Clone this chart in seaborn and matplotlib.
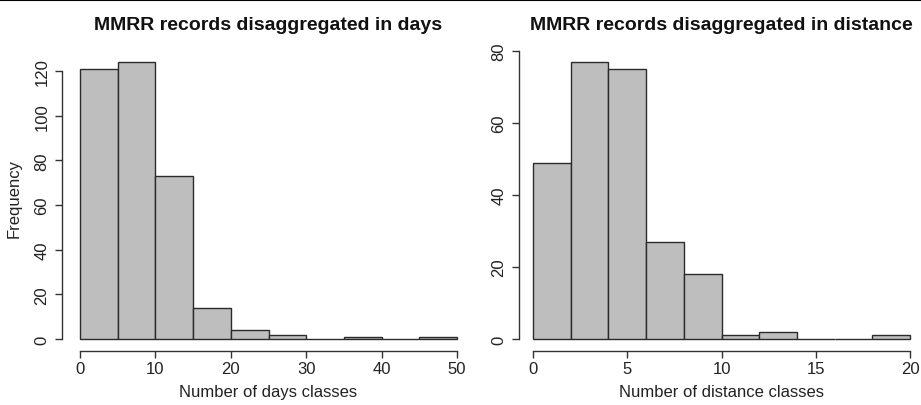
import numpy as np
import pandas as pd
import seaborn as sns
import matplotlib
matplotlib.use("Agg")
from matplotlib import pyplot as plt

# bin edges + counts
day_edges = [0, 5, 10, 15, 20, 25, 30, 35, 40, 45, 50]
day_counts = [121, 124, 73, 14, 4, 2, 0, 1, 0, 1]

dist_edges = [0, 2, 4, 6, 8, 10, 12, 14, 16, 18, 20]
dist_counts = [49, 77, 75, 27, 18, 1, 2, 0, 0, 1]

day_xticks = [0, 10, 20, 30, 40, 50]
day_yticks = [0, 20, 40, 60, 80, 100, 120]
dist_xticks = [0, 5, 10, 15, 20]
dist_yticks = [0, 20, 40, 60, 80]

sns.set_style("white")
plt.rcParams["font.family"] = ["Liberation Sans", "DejaVu Sans"]

W, H = 921, 406
fig = plt.figure(figsize=(W / 100, H / 100), dpi=100)


def r_hist(ax, edges, counts, xticks, yticks, title, xlabel, yoff, ylabel=None):
    e = np.array(edges, dtype=float)
    df = pd.DataFrame({"x": (e[:-1] + e[1:]) / 2, "n": counts})
    sns.histplot(data=df, x="x", weights="n", bins=list(edges), ax=ax,
                 color="#bebebe", edgecolor="#2b2b2b", linewidth=1.0, alpha=1)
    # R draws empty bins as a flat line on zero, keep it from being clipped
    for p in ax.patches:
        p.set_clip_on(False)
    ax.set_xlim(edges[0], edges[-1])
    ax.set_xticks(xticks)
    ax.set_yticks(yticks)
    for s in ["top", "right"]:
        ax.spines[s].set_visible(False)
    ax.spines["left"].set_position(("outward", yoff))
    ax.spines["bottom"].set_position(("outward", 8.6))
    ax.spines["left"].set_bounds(yticks[0], yticks[-1])
    ax.spines["bottom"].set_bounds(xticks[0], xticks[-1])
    for s in ["left", "bottom"]:
        ax.spines[s].set_color("#333333")
        ax.spines[s].set_linewidth(1.0)
    ax.tick_params(axis="both", direction="out", length=5, width=1.0,
                   color="#333333", labelsize=12, labelcolor="#222222",
                   left=True, bottom=True)
    ax.tick_params(axis="x", pad=2)
    ax.tick_params(axis="y", pad=4, labelrotation=90)
    for lab in ax.get_yticklabels():
        lab.set_va("center")
    # title at a fixed height, like R's main=
    pos = ax.get_position()
    fig.text((pos.x0 + pos.x1) / 2, 1 - 25 / H, title, ha="center", va="center",
             fontsize=14.0, fontweight="bold", color="#111111")
    ax.set_xlabel(xlabel, fontsize=12, color="#222222", labelpad=6)
    ax.set_ylabel(ylabel if ylabel else "", fontsize=12, color="#222222", labelpad=9)


# left panel: y 0 -> 340px, 120 -> 72px
k1 = (340 - 72) / 120
ax1 = fig.add_axes([80 / W, (H - 340) / H, (457 - 80) / W, 127 * k1 / H])
ax1.set_ylim(0, 127)
r_hist(ax1, day_edges, day_counts, day_xticks, day_yticks,
       "MMRR records disaggregated in days", "Number of days classes", 13, "Frequency")

# right panel: y 0 -> 340px, 80 -> 52px
k2 = (340 - 52) / 80
ax2 = fig.add_axes([533 / W, (H - 340) / H, (910 - 533) / W, 84.5 * k2 / H])
ax2.set_ylim(0, 84.5)
r_hist(ax2, dist_edges, dist_counts, dist_xticks, dist_yticks,
       "MMRR records disaggregated in distance", "Number of distance classes", 10)

# thin frame line along the top
fig.add_artist(plt.Line2D([0, 1], [0.997, 0.997], color="black", lw=1.5,
                          transform=fig.transFigure))

fig.savefig("out.png", dpi=100)
